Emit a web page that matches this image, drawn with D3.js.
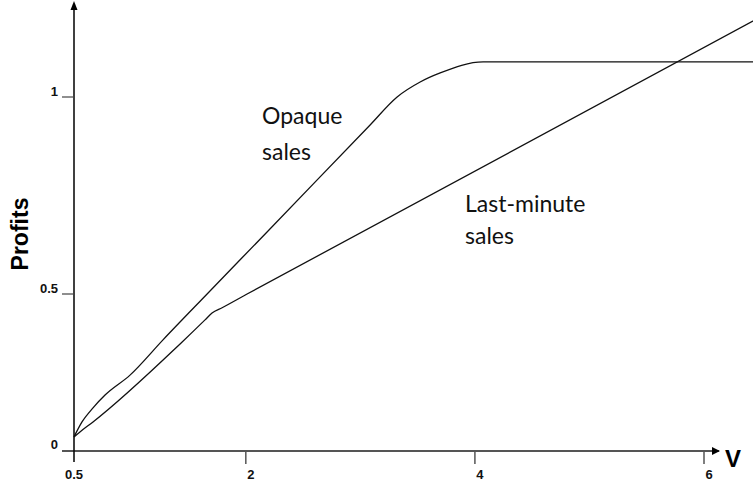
<!DOCTYPE html>
<html>
<head>
<meta charset="utf-8">
<script src="https://cdn.jsdelivr.net/npm/d3@7"></script>
<style>
  body { margin: 0; background: #fff; }
  svg { display: block; }
  .lbl { font-family: Lato, "Open Sans", sans-serif; font-size: 23px; fill: #111; }
  .tick-lbl { font-family: "Liberation Sans", Arial, sans-serif; font-weight: bold; font-size: 13px; fill: #111; }
</style>
</head>
<body>
<svg width="753" height="482"></svg>
<script>
// values (x = V, y = profits)
const opaqueV      = [0.5, 0.570, 0.666, 0.771, 0.989, 1.277, 1.662, 2.177, 3.085, 3.321, 3.522, 3.697, 4.072, 6.43];
const opaqueProfit = [0.042, 0.090, 0.135, 0.176, 0.240, 0.353, 0.5, 0.655, 0.929, 1.0, 1.038, 1.061, 1.089, 1.089];

const lastMinV      = [0.5, 0.552, 0.666, 1.426, 1.644, 1.705, 1.793, 2.011, 6.43];
const lastMinProfit = [0.042, 0.058, 0.090, 0.340, 0.417, 0.439, 0.456, 0.5, 1.193];

const xTicks = [0.5, 2, 4, 6];
const yTicks = [0, 0.5, 1];

const svg = d3.select("svg");

// hand drawn figure: the y ticks are not evenly spaced, so piecewise scale
const x = d3.scaleLinear().domain([0.5, 6]).range([74, 704]);
const y = d3.scaleLinear().domain(yTicks).range([450, 294, 97]);

const axisY = 451;

// x axis (gray, drawn by hand style)
svg.append("line")
  .attr("x1", 62).attr("x2", 719)
  .attr("y1", axisY).attr("y2", axisY)
  .attr("stroke", "#555").attr("stroke-width", 2);
svg.append("path")
  .attr("d", `M712,${axisY - 4}L720,${axisY}L712,${axisY + 4}Z`)
  .attr("fill", "#000");

const gx = svg.append("g");
gx.selectAll("line").data(xTicks.slice(1)).enter().append("line")
  .attr("x1", d => x(d)).attr("x2", d => x(d))
  .attr("y1", axisY).attr("y2", axisY + 13)
  .attr("stroke", "#555").attr("stroke-width", 1.5);
gx.selectAll("text").data(xTicks).enter().append("text")
  .attr("class", "tick-lbl")
  .attr("x", d => x(d) + (d === 0.5 ? 0 : 5))
  .attr("y", 479)
  .attr("text-anchor", "middle")
  .text(d => d);

// y axis
svg.append("line")
  .attr("x1", 74).attr("x2", 74)
  .attr("y1", 462).attr("y2", 6)
  .attr("stroke", "#000").attr("stroke-width", 1.5);
svg.append("path")
  .attr("d", "M70.5,10L74,1L77.5,10Z")
  .attr("fill", "#000");

const gy = svg.append("g");
gy.selectAll("line").data(yTicks.slice(1)).enter().append("line")
  .attr("x1", 62).attr("x2", 74)
  .attr("y1", d => y(d)).attr("y2", d => y(d))
  .attr("stroke", "#444").attr("stroke-width", 1.2);
gy.selectAll("text").data(yTicks).enter().append("text")
  .attr("class", "tick-lbl")
  .attr("x", 58)
  .attr("y", d => y(d) - 1)
  .attr("text-anchor", "end")
  .text(d => d);

// axis titles
svg.append("text")
  .attr("transform", "translate(28,234) rotate(-90)")
  .attr("text-anchor", "middle")
  .style("font-family", "'Liberation Sans', Arial, sans-serif")
  .style("font-weight", "bold")
  .style("font-size", "23px")
  .text("Profits");

svg.append("text")
  .attr("x", 725).attr("y", 467)
  .style("font-family", "'Liberation Sans', Arial, sans-serif")
  .style("font-weight", "bold")
  .style("font-size", "24px")
  .text("V");

// curves
const line = d3.line()
  .x(d => x(d[0]))
  .y(d => y(d[1]))
  .curve(d3.curveMonotoneX);

svg.append("path")
  .datum(d3.zip(opaqueV, opaqueProfit))
  .attr("d", line)
  .attr("fill", "none")
  .attr("stroke", "#111")
  .attr("stroke-width", 1.3);

svg.append("path")
  .datum(d3.zip(lastMinV, lastMinProfit))
  .attr("d", line)
  .attr("fill", "none")
  .attr("stroke", "#111")
  .attr("stroke-width", 1.3);

// curve labels
const opaqueLbl = svg.append("text").attr("class", "lbl");
opaqueLbl.append("tspan").attr("x", 262).attr("y", 124).text("Opaque");
opaqueLbl.append("tspan").attr("x", 262).attr("y", 160).text("sales");

const lastLbl = svg.append("text").attr("class", "lbl");
lastLbl.append("tspan").attr("x", 465).attr("y", 212).text("Last-minute");
lastLbl.append("tspan").attr("x", 465).attr("y", 244).text("sales");
</script>
</body>
</html>
